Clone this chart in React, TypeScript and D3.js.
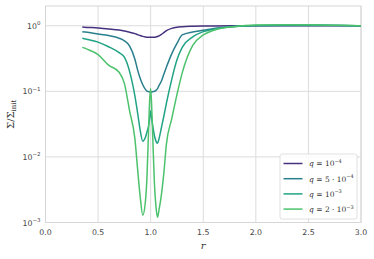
import React from 'react'
import * as d3 from 'd3'

// radial grid (denser around the planet at r = 1)
const radius = [0.35, 0.4, 0.5, 0.6, 0.7, 0.75, 0.8, 0.85, 0.875, 0.9, 0.925, 0.95, 0.965, 0.98, 0.99, 1.0, 1.01, 1.02, 1.035, 1.05, 1.065, 1.08, 1.1, 1.125, 1.15, 1.2, 1.25, 1.3, 1.4, 1.5, 1.6, 1.8, 2.0, 2.3, 2.6, 2.8, 3.0]

// surface density profiles Sigma / Sigma_init
const sigmaQ1 = [0.955, 0.944, 0.923, 0.895, 0.861, 0.832, 0.794, 0.759, 0.733, 0.708, 0.689, 0.676, 0.67, 0.667, 0.665, 0.665, 0.665, 0.667, 0.67, 0.676, 0.684, 0.7, 0.733, 0.785, 0.841, 0.912, 0.951, 0.968, 0.982, 0.989, 0.993, 0.998, 1, 1, 1, 1, 1]
const sigmaQ2 = [0.813, 0.794, 0.75, 0.708, 0.646, 0.589, 0.49, 0.309, 0.214, 0.158, 0.126, 0.107, 0.101, 0.0989, 0.0977, 0.0977, 0.0977, 0.0989, 0.1, 0.1035, 0.1096, 0.123, 0.141, 0.182, 0.234, 0.372, 0.537, 0.724, 0.804, 0.851, 0.912, 0.977, 1, 1.012, 1.012, 1.007, 1]
const sigmaQ3 = [0.646, 0.617, 0.562, 0.479, 0.389, 0.331, 0.2, 0.0851, 0.0479, 0.0257, 0.0174, 0.02, 0.024, 0.0295, 0.038, 0.05, 0.038, 0.0295, 0.0214, 0.0174, 0.0162, 0.019, 0.0269, 0.0417, 0.066, 0.151, 0.302, 0.468, 0.676, 0.813, 0.891, 0.977, 1.012, 1.028, 1.023, 1.012, 1]
const sigmaQ4 = [0.468, 0.437, 0.363, 0.251, 0.195, 0.132, 0.05, 0.019, 0.00676, 0.00251, 0.00129, 0.00209, 0.00501, 0.0251, 0.0708, 0.11, 0.0575, 0.02, 0.00417, 0.00178, 0.0012, 0.00158, 0.00251, 0.00562, 0.0158, 0.038, 0.0891, 0.191, 0.501, 0.724, 0.851, 0.977, 1.028, 1.035, 1.03, 1.016, 1]

const seriesValues = [sigmaQ1, sigmaQ2, sigmaQ3, sigmaQ4]
const seriesMantissa = ['', '5', '', '2']
const seriesExponent = ['\u22124', '\u22124', '\u22123', '\u22123']
const colors = ['#46317e', '#2a7f8e', '#22a386', '#4cc26c']

const xTicks = [0, 0.5, 1, 1.5, 2, 2.5, 3]
const yTicks = [1, 0.1, 0.01, 0.001]
const yExponents = ['0', '-1', '-2', '-3']

function App() {
  const width = 374
  const height = 259
  const left = 45.5
  const right = 361
  const top = 6
  const bottom = 222.5

  const x = d3.scaleLinear().domain([0, 3]).range([left, right])
  const y = d3.scaleLog().domain([1e-3, 2]).range([bottom, top])

  const line = d3
    .line<number>()
    .x((d, i) => x(radius[i]))
    .y(d => y(d))
    .curve(d3.curveMonotoneX)

  const tickFont = { fontFamily: 'DejaVu Sans', fontSize: 7.8, fill: '#444' }
  const mathFont = { fontFamily: 'DejaVu Serif' }

  // legend box
  const lg = { x: 280, y: 154, w: 77, h: 65 }

  return (
    <svg width={width} height={height} style={{ position: 'absolute', left: 0, top: 0 }}>
      <rect x={0} y={0} width={width} height={height} fill="#fff" />

      {/* grid */}
      {xTicks.map(t => (
        <line key={'gx' + t} x1={x(t)} x2={x(t)} y1={top} y2={bottom} stroke="#dcdcdc" strokeWidth={1} />
      ))}
      {yTicks.map(t => (
        <line key={'gy' + t} x1={left} x2={right} y1={y(t)} y2={y(t)} stroke="#dcdcdc" strokeWidth={1} />
      ))}
      <rect x={left} y={top} width={right - left} height={bottom - top} fill="none" stroke="#d6d6d6" strokeWidth={1} />

      {/* curves */}
      <g clipPath="url(#plot)">
        {seriesValues.map((vals, i) => (
          <path key={i} d={line(vals) || ''} fill="none" stroke={colors[i]} strokeWidth={1.5} />
        ))}
      </g>
      <defs>
        <clipPath id="plot">
          <rect x={left} y={top} width={right - left} height={bottom - top} />
        </clipPath>
      </defs>

      {/* x tick labels */}
      {xTicks.map(t => (
        <text key={'tx' + t} x={x(t)} y={bottom + 12.5} textAnchor="middle" style={tickFont}>
          {d3.format('.1f')(t)}
        </text>
      ))}
      {/* y tick labels */}
      {yTicks.map((t, i) => (
        <text key={'ty' + t} x={left - 5} y={y(t) + 3} textAnchor="end" style={tickFont}>
          10<tspan fontSize={5.5} dy={-3.5}>{yExponents[i].replace('-', '\u2212')}</tspan>
        </text>
      ))}

      {/* axis labels */}
      <text x={(left + right) / 2} y={249} textAnchor="middle" style={{ ...mathFont, fontSize: 10, fontStyle: 'italic', fill: '#333' }}>r</text>
      <g transform={`translate(14 ${(top + bottom) / 2}) rotate(-90)`}>
        <text textAnchor="middle" style={{ ...mathFont, fontSize: 10, fill: '#333' }}>
          {'\u03A3/\u03A3'}<tspan fontSize={7} dy={2}>init</tspan>
        </text>
      </g>

      {/* legend */}
      <rect x={lg.x} y={lg.y} width={lg.w} height={lg.h} rx={2} fill="#fff" fillOpacity={0.85} stroke="#d8d8d8" strokeWidth={0.8} />
      {seriesValues.map((_, i) => {
        const ly = lg.y + 9.5 + i * 15.2
        return (
          <g key={'lg' + i}>
            <line x1={lg.x + 3.5} x2={lg.x + 22.5} y1={ly} y2={ly} stroke={colors[i]} strokeWidth={1.5} />
            <text x={lg.x + 29} y={ly + 2.8} style={{ ...mathFont, fontSize: 7.5, fill: '#333' }}>
              <tspan fontStyle="italic">q</tspan>
              {' = '}
              {seriesMantissa[i] ? seriesMantissa[i] + ' \u00B7 ' : ''}
              10<tspan fontSize={5} dy={-3.3}>{seriesExponent[i]}</tspan>
            </text>
          </g>
        )
      })}
    </svg>
  )
}

export default App
